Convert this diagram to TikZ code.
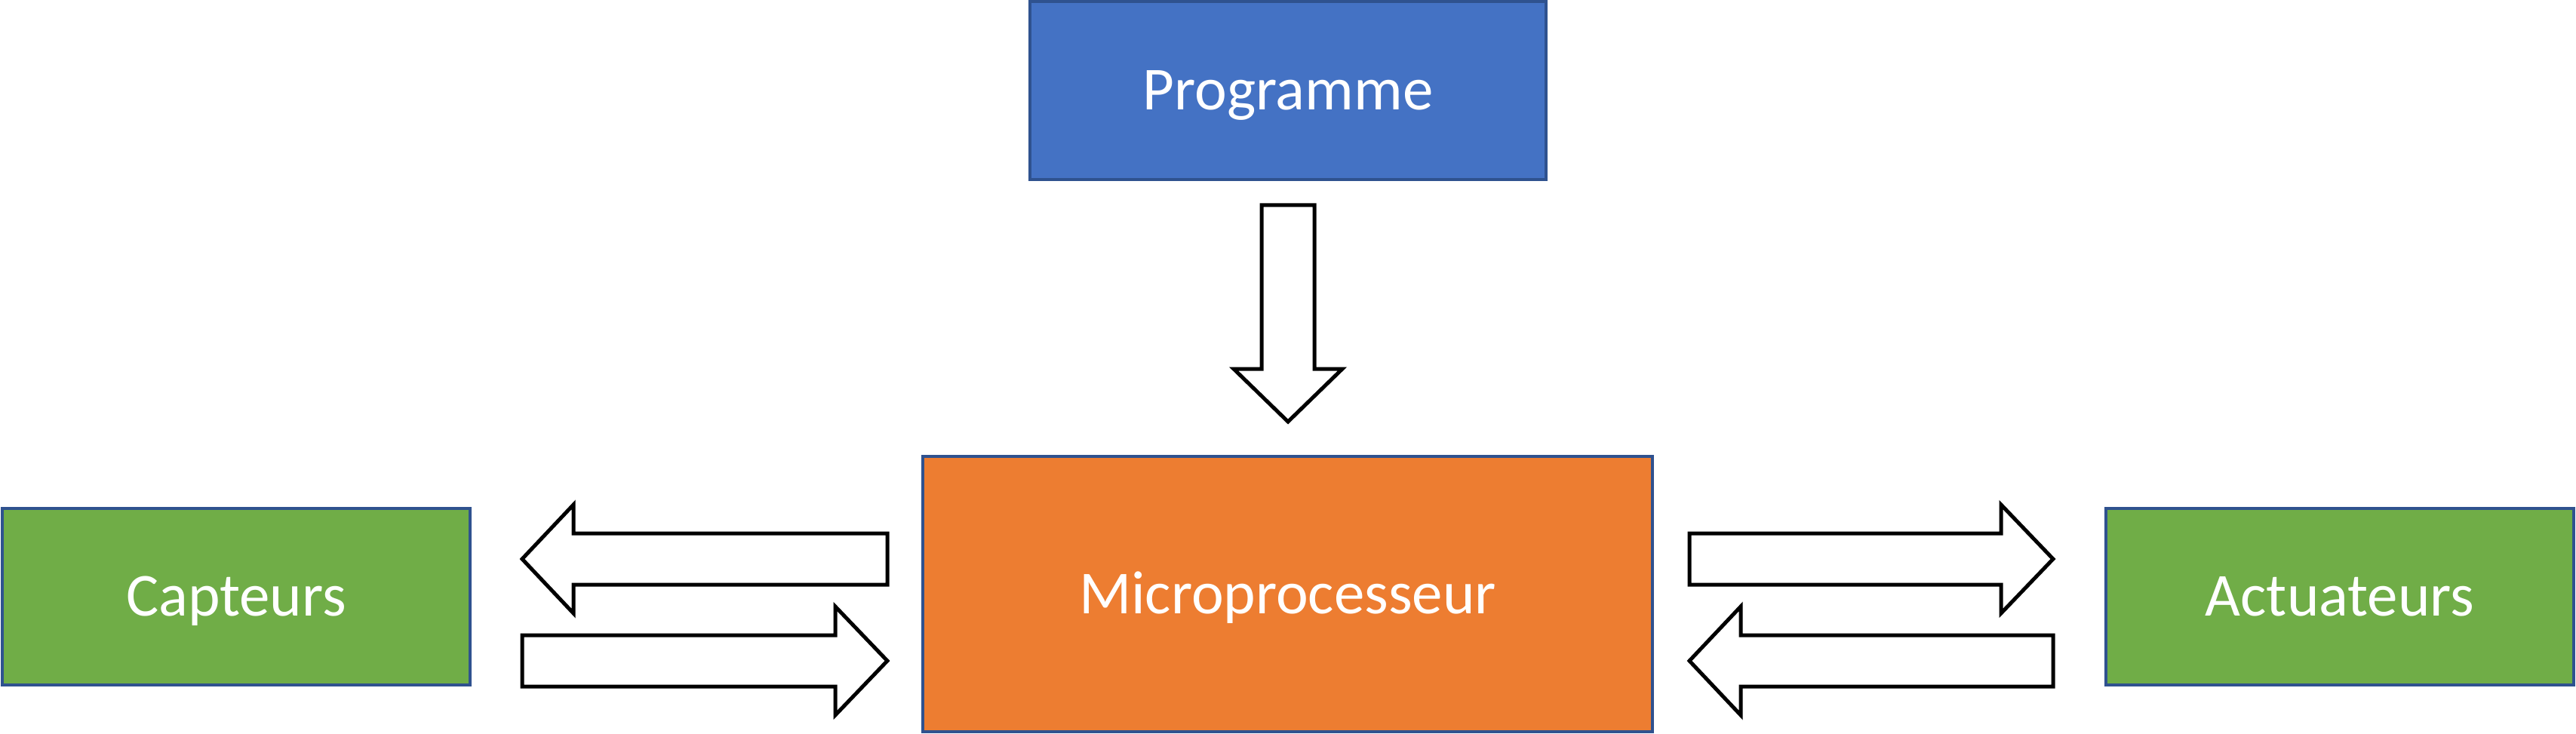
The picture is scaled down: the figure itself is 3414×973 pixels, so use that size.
\documentclass[tikz,border=0pt]{standalone}
\usepackage{fontspec}
\setmainfont{Carlito}
\definecolor{progblue}{HTML}{4472C4}
\definecolor{microorange}{HTML}{ED7D31}
\definecolor{sensgreen}{HTML}{70AD47}
\definecolor{boxborder}{HTML}{2F528F}
\begin{document}
\begin{tikzpicture}[x=1pt,y=-1pt,
  box/.style={draw=boxborder, line width=4pt, inner sep=0pt, outer sep=0pt,
    text=white, font=\fontsize{81}{97}\selectfont, text height=51pt, text depth=0pt},
  blockarrow/.style={draw=black, fill=white, line width=5pt, line join=miter}]
\useasboundingbox (0,0) rectangle (3414,973);
\node[box, fill=progblue, minimum width=684pt, minimum height=236pt] (prog) at (1707,120) {Programme};
\node[box, fill=microorange, minimum width=967pt, minimum height=365pt] (micro) at (1706.5,787.5) {Microprocesseur};
\node[box, fill=sensgreen, minimum width=620pt, minimum height=234pt] (capt) at (313,791) {Capteurs};
\node[box, fill=sensgreen, minimum width=620pt, minimum height=234pt] (act) at (3101,791) {Actuateurs};
% down arrow
\draw[blockarrow] (1672,272) -- (1742,272) -- (1742,489) -- (1779,489) -- (1707,559) -- (1635,489) -- (1672,489) -- cycle;
% left pair
\draw[blockarrow] (1176,707) -- (760,707) -- (760,669) -- (692,741) -- (760,813) -- (760,775) -- (1176,775) -- cycle;
\draw[blockarrow] (692,842) -- (1107,842) -- (1107,804) -- (1176,876) -- (1107,948) -- (1107,910) -- (692,910) -- cycle;
% right pair
\draw[blockarrow] (2239,707) -- (2652,707) -- (2652,669) -- (2721,741) -- (2652,813) -- (2652,775) -- (2239,775) -- cycle;
\draw[blockarrow] (2721,842) -- (2307,842) -- (2307,804) -- (2239,876) -- (2307,948) -- (2307,910) -- (2721,910) -- cycle;
\end{tikzpicture}
\end{document}
